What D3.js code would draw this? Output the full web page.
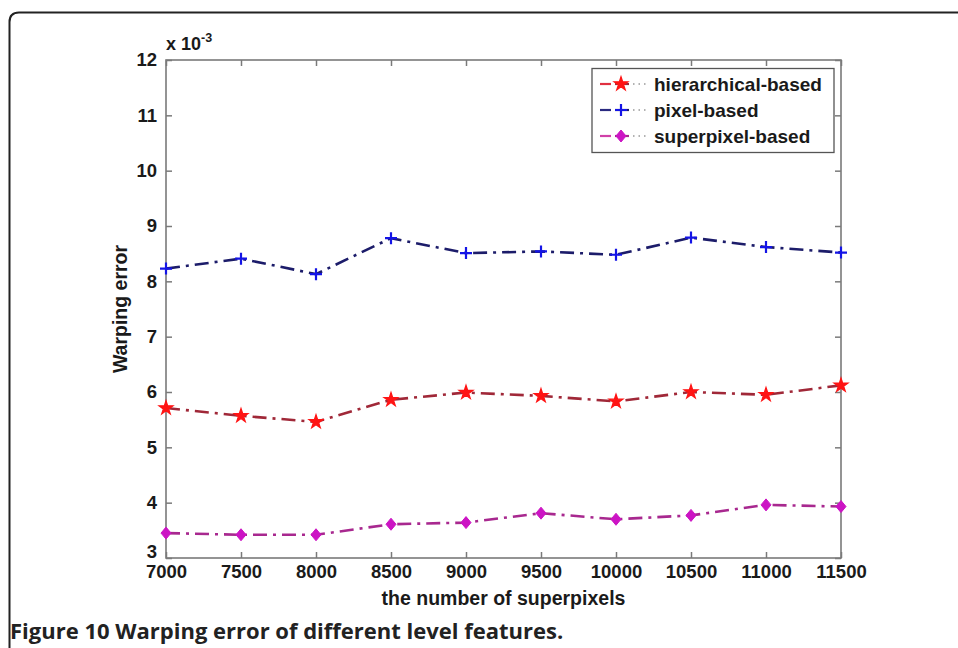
<!DOCTYPE html>
<html><head><meta charset="utf-8">
<script src="https://cdn.jsdelivr.net/npm/d3@7/dist/d3.min.js"></script>
<style>body{margin:0;background:#fff}svg{display:block}</style>
</head><body><svg id="c" width="958" height="648"></svg>
<script>
const xValues = [7000, 7500, 8000, 8500, 9000, 9500, 10000, 10500, 11000, 11500];
const hierarchical = [5.71, 5.57, 5.46, 5.86, 5.99, 5.93, 5.83, 6.00, 5.95, 6.12];
const pixel = [8.23, 8.41, 8.13, 8.78, 8.51, 8.54, 8.48, 8.79, 8.62, 8.52];
const superpixel = [3.45, 3.42, 3.42, 3.61, 3.64, 3.81, 3.70, 3.77, 3.96, 3.93];
const yTicks = [3,4,5,6,7,8,9,10,11,12];
const seriesNames = ["hierarchical-based", "pixel-based", "superpixel-based"];

const series = [
  {name: seriesNames[0], values: hierarchical, line: "#a02838", seg: "#e03040", mark: "#ff1414", shape: "star"},
  {name: seriesNames[1], values: pixel, line: "#1c1c6a", seg: "#2a2a80", mark: "#1414e6", shape: "plus"},
  {name: seriesNames[2], values: superpixel, line: "#a8288f", seg: "#d040a8", mark: "#cc14c4", shape: "diamond"}
];

const svg = d3.select("#c");
const W = 958, H = 648;
svg.append("path").attr("d", `M9.5,${H+5} L9.5,22 Q9.5,12.5 19,12.5 L${W+5},12.5`)
  .attr("fill","none").attr("stroke","#222").attr("stroke-width",2);

const L = 166, R = 841, T = 60, B = 558;
const x = d3.scaleLinear().domain([7000, 11500]).range([L, R]);
const y = d3.scaleLinear().domain([3, 12]).range([B, T]);
const font = "Liberation Sans, Arial, sans-serif";
const axisCol = "#7a7a7a";
function txt(sel, size){
  sel.attr("fill","#1a1a1a")
    .style("font-family",font).style("font-size",size+"px").style("font-weight","bold");
}

const g = svg.append("g");
g.append("rect").attr("x",L).attr("y",T).attr("width",R-L).attr("height",B-T)
  .attr("fill","none").attr("stroke",axisCol).attr("stroke-width",1.6);

const xb = g.append("g").attr("transform",`translate(0,${B})`)
  .call(d3.axisBottom(x).tickValues(xValues).tickSize(-6).tickPadding(9).tickFormat(d3.format("d")));
const xt = g.append("g").attr("transform",`translate(0,${T})`)
  .call(d3.axisTop(x).tickValues(xValues).tickSize(-6).tickFormat(""));
const yl = g.append("g").attr("transform",`translate(${L},0)`)
  .call(d3.axisLeft(y).tickValues(yTicks).tickSize(-6).tickPadding(9).tickFormat(d3.format("d")));
const yr = g.append("g").attr("transform",`translate(${R},0)`)
  .call(d3.axisRight(y).tickValues(yTicks).tickSize(-6).tickFormat(""));
[xb,xt,yl,yr].forEach(a=>{
  a.select(".domain").remove();
  a.selectAll(".tick line").attr("stroke",axisCol).attr("stroke-width",1.5);
  a.selectAll("text").call(txt, 18.5);
});
xb.selectAll("text").attr("dy","0.62em");
yl.selectAll(".tick").filter(d=>d===3).select("text").attr("dy","-0.05em");

const ex = g.append("text").attr("x",166).attr("y",50).call(txt, 18);
ex.append("tspan").text("x 10");
ex.append("tspan").attr("dy",-8).style("font-size","12.5px").text("-3");

g.append("text").attr("x",(L+R)/2).attr("y",605).attr("text-anchor","middle").call(txt, 19.5)
  .text("the number of superpixels");
g.append("text").attr("transform",`translate(127,${(T+B)/2}) rotate(-90)`).attr("text-anchor","middle").call(txt, 19.5)
  .text("Warping error");

function marker(sel, shape, color){
  if(shape==="star"){
    sel.append("path").attr("d", d3.symbol(d3.symbolStar, 60)()).attr("fill",color).attr("stroke",color).attr("stroke-width",1.2);
  } else if(shape==="plus"){
    sel.append("path").attr("d","M-6,0H6M0,-6V6").attr("stroke",color).attr("stroke-width",2.2).attr("fill","none");
  } else {
    sel.append("path").attr("d","M0,-6L5,0L0,6L-5,0Z").attr("fill",color).attr("stroke",color).attr("stroke-width",1);
  }
}

const dash = "14,6,3,6";
const line = d3.line().x((d,i)=>x(xValues[i])).y(d=>y(d));
series.forEach(s=>{
  g.append("path").datum(s.values).attr("d",line).attr("fill","none")
    .attr("stroke",s.line).attr("stroke-width",2.6).attr("stroke-dasharray",dash);
  s.values.forEach((v,i)=>{
    const m = g.append("g").attr("transform",`translate(${x(xValues[i])},${y(v)})`);
    marker(m, s.shape, s.mark);
  });
});

const lg = g.append("g");
lg.append("rect").attr("x",592).attr("y",68.5).attr("width",242).attr("height",84)
  .attr("fill","#fff").attr("stroke","#555").attr("stroke-width",1.3);
series.forEach((s,i)=>{
  const cy = 84 + i*26;
  lg.append("line").attr("x1",600).attr("x2",611).attr("y1",cy).attr("y2",cy).attr("stroke",s.seg).attr("stroke-width",2.2);
  lg.append("line").attr("x1",615).attr("x2",629).attr("y1",cy).attr("y2",cy).attr("stroke",s.line).attr("stroke-width",2.2);
  lg.append("line").attr("x1",633).attr("x2",648).attr("y1",cy).attr("y2",cy).attr("stroke","#999").attr("stroke-width",1.5).attr("stroke-dasharray","1.5,4");
  const m = lg.append("g").attr("transform",`translate(621,${cy})`);
  marker(m, s.shape, s.mark);
  lg.append("text").attr("x",654).attr("y",cy).attr("dy","0.35em").call(txt, 19).text(s.name);
});

svg.append("text").attr("x",10).attr("y",639).attr("fill","#222")
  .style("font-family","Open Sans, sans-serif").style("font-size","22px").style("font-weight","bold")
  .text("Figure 10 Warping error of different level features.");
</script></body></html>
